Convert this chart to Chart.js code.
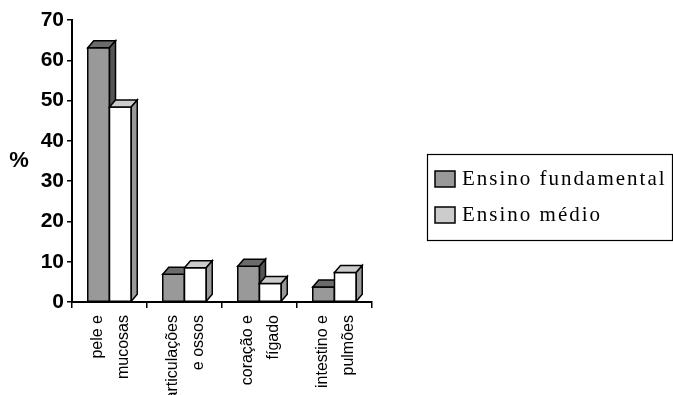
<!DOCTYPE html>
<html>
<head>
<meta charset="utf-8">
<script src="https://cdn.jsdelivr.net/npm/chart.js@4"></script>
<style>
  html, body { margin: 0; padding: 0; background: #fff; }
  #wrap { width: 673px; height: 395px; }
</style>
</head>
<body>
<div id="wrap"><canvas id="chart" width="673" height="395"></canvas></div>
<script>
const categories = [["pele e", "mucosas"], ["articulações", "e ossos"], ["coração e", "fígado"], ["intestino e", "pulmões"]];
const fundamental = [63.1, 6.9, 8.9, 3.7];
const medio = [48.4, 8.5, 4.6, 7.3];
const seriesNames = ["Ensino fundamental", "Ensino médio"];
const yTicks = [0, 10, 20, 30, 40, 50, 60, 70];

// face colours: front, top, side
const faces = [
    { front: "#999999", top: "#6b6b6b", side: "#555555", swatch: "#999999" },
    { front: "#ffffff", top: "#cccccc", side: "#999999", swatch: "#cccccc" }
];
const depthX = 6, depthY = 7;

const bars3d = {
    id: "bars3d",
    afterDatasetsDraw(chart) {
        const ctx = chart.ctx;
        const metas = chart.data.datasets.map((d, i) => chart.getDatasetMeta(i));
        ctx.save();
        ctx.lineWidth = 1.5;
        ctx.strokeStyle = "#000";
        ctx.lineJoin = "miter";
        for (let i = 0; i < categories.length; i++) {
            metas.forEach((meta, d) => {
                const { x, y, width, base } = meta.data[i].getProps(["x", "y", "width", "base"], true);
                const l = x - width / 2, r = x + width / 2;
                const c = faces[d];
                // front
                ctx.fillStyle = c.front;
                ctx.beginPath();
                ctx.rect(l, y, width, base - y);
                ctx.fill(); ctx.stroke();
                // top
                ctx.fillStyle = c.top;
                ctx.beginPath();
                ctx.moveTo(l, y);
                ctx.lineTo(l + depthX, y - depthY);
                ctx.lineTo(r + depthX, y - depthY);
                ctx.lineTo(r, y);
                ctx.closePath();
                ctx.fill(); ctx.stroke();
                // side
                ctx.fillStyle = c.side;
                ctx.beginPath();
                ctx.moveTo(r, y);
                ctx.lineTo(r + depthX, y - depthY);
                ctx.lineTo(r + depthX, base - depthY);
                ctx.lineTo(r, base);
                ctx.closePath();
                ctx.fill(); ctx.stroke();
            });
        }
        ctx.restore();
    },
    afterDraw(chart) {
        const ctx = chart.ctx;
        const area = chart.chartArea;
        ctx.save();
        // "%" axis title, upright
        ctx.fillStyle = "#000";
        ctx.font = "bold 22px 'Liberation Sans', Arial, sans-serif";
        ctx.textAlign = "center";
        ctx.textBaseline = "middle";
        ctx.fillText("%", 19, (area.top + area.bottom) / 2);

        // legend box
        const bx = 427, by = 154, bw = 245, bh = 86;
        ctx.lineWidth = 1.2;
        ctx.strokeStyle = "#000";
        ctx.strokeRect(bx + 0.5, by + 0.5, bw, bh);
        ctx.font = "21px 'Liberation Serif', 'Times New Roman', serif";
        ctx.textAlign = "left";
        ctx.textBaseline = "middle";
        ctx.letterSpacing = "2px";
        chart.data.datasets.forEach((ds, d) => {
            const sy = 171 + d * 36;
            ctx.fillStyle = faces[d].swatch;
            ctx.fillRect(435, sy, 20, 16);
            ctx.lineWidth = 1.5;
            ctx.strokeRect(435, sy, 20, 16);
            ctx.fillStyle = "#000";
            ctx.fillText(ds.label, 462, sy + 8);
        });
        ctx.restore();
    }
};

new Chart(document.getElementById("chart"), {
    type: "bar",
    data: {
        labels: categories,
        datasets: [
            { label: seriesNames[0], data: fundamental, backgroundColor: faces[0].front, borderColor: "#000", borderWidth: 1.5 },
            { label: seriesNames[1], data: medio, backgroundColor: faces[1].front, borderColor: "#000", borderWidth: 1.5 }
        ]
    },
    options: {
        responsive: false,
        animation: false,
        events: [],
        layout: { padding: { left: 0, right: 301, top: 20, bottom: 0 } },
        datasets: { bar: { barPercentage: 1, categoryPercentage: 0.58 } },
        plugins: { legend: { display: false }, tooltip: { enabled: false } },
        scales: {
            x: {
                afterFit(scale) { scale.height = 93; },
                grid: { drawOnChartArea: false, tickLength: 6, color: "#000", lineWidth: 1.5, offset: true },
                border: { color: "#000", width: 2 },
                ticks: {
                    color: "#000",
                    minRotation: 90,
                    maxRotation: 90,
                    padding: 7,
                    labelOffset: -12,
                    font: { family: "'Liberation Sans', Arial, sans-serif", size: 16, lineHeight: 1.6 }
                }
            },
            y: {
                min: 0,
                max: 70,
                afterFit(scale) { scale.width = 72; },
                afterBuildTicks(scale) { scale.ticks = yTicks.map(v => ({ value: v })); },
                grid: { drawOnChartArea: false, tickLength: 5, color: "#000", lineWidth: 1.5 },
                border: { color: "#000", width: 2 },
                ticks: {
                    color: "#000",
                    padding: 3,
                    font: { family: "'Liberation Sans', Arial, sans-serif", size: 21, weight: "bold" }
                }
            }
        }
    },
    plugins: [bars3d]
});
</script>
</body>
</html>
